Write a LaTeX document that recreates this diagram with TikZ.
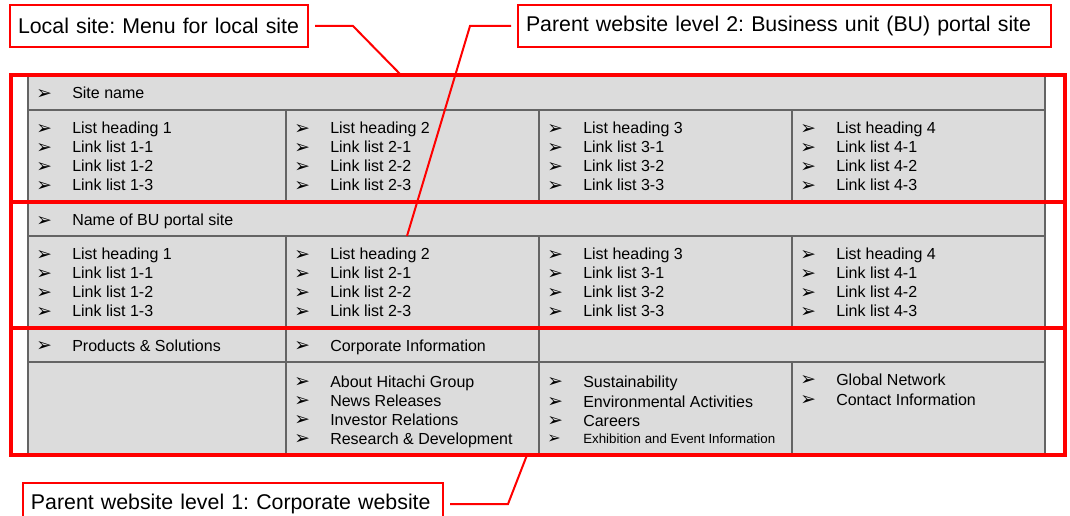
\documentclass[tikz,border=0pt]{standalone}
\usepackage{fontspec}
\setmainfont{Liberation Sans}
\newfontfamily\arrowfont{DejaVu Sans}
\usetikzlibrary{calc}
\frenchspacing

\definecolor{cellfill}{RGB}{220,220,220}
\definecolor{cellline}{RGB}{100,100,100}
\definecolor{markred}{RGB}{255,0,0}

\newcommand{\bul}[1][14pt]{\makebox[27pt][l]{\arrowfont\fontsize{#1}{#1}\selectfont\raisebox{-0.05em}{➢}}}

\tikzset{
  cell/.style={draw=cellline, fill=cellfill, line width=1.1pt},
  itm/.style={anchor=base west, inner sep=0pt, font=\fontsize{12}{14}\selectfont},
  smallitm/.style={itm, font=\fontsize{10}{12}\selectfont},
  region/.style={draw=markred, line width=3pt},
  callout/.style={draw=markred, line width=1.5pt, fill=white, anchor=west, inner xsep=6pt,
    minimum height=31.5pt, align=left, font=\fontsize{16}{19}\selectfont},
  lead/.style={markred, line width=1.5pt, shorten <=4.5pt},
}

\begin{document}
\begin{tikzpicture}[x=0.75pt,y=-0.75pt]
\clip (0,0) rectangle (1070,516);

% Menu table
\draw[cell] (28,75) rectangle (1045,110);
\draw[cell] (28,110) rectangle (1045,202);
\draw[cell] (28,202) rectangle (1045,236);
\draw[cell] (28,236) rectangle (1045,328);
\draw[cell] (28,328) rectangle (1045,362);
\draw[cell] (28,362) rectangle (1045,455);
\foreach \cx in {286,539,792}
  \draw[cellline, line width=1.1pt] (\cx,110) -- (\cx,202) (\cx,236) -- (\cx,328) (\cx,362) -- (\cx,455);
\draw[cellline, line width=1.1pt] (286,328) -- (286,362) (539,328) -- (539,362);

% Local site
\node[itm] (sitename) at (36,99) {\bul Site name};
\foreach \cx [count=\i] in {28,286,539,792} {
  \node[itm] (loc\i) at (\cx+8,134) {\bul List heading \i};
  \foreach \k in {1,2,3}
    \node[itm] (loc\i-\k) at (\cx+8,134+19*\k) {\bul Link list \i-\k};
}

% BU portal site
\node[itm] (buname) at (36,226) {\bul Name of BU portal site};
\foreach \cx [count=\i] in {28,286,539,792} {
  \node[itm] (bu\i) at (\cx+8,260) {\bul List heading \i};
  \foreach \k in {1,2,3}
    \node[itm] (bu\i-\k) at (\cx+8,260+19*\k) {\bul Link list \i-\k};
}

% Corporate website
\node[itm] (products) at (36,351) {\bul Products \& Solutions};
\node[itm] (corpinfo) at (294,351) {\bul Corporate Information};
\node[itm] (about) at (294,387) {\bul About Hitachi Group};
\node[itm] (news) at (294,406) {\bul News Releases};
\node[itm] (investor) at (294,425) {\bul Investor Relations};
\node[itm] (research) at (294,444) {\bul Research \& Development};
\node[itm] (sustain) at (547,387) {\bul Sustainability};
\node[itm] (environ) at (547,407) {\bul Environmental Activities};
\node[itm] (careers) at (547,426) {\bul Careers};
\node[smallitm] (exhibit) at (547,443) {\bul[12pt]Exhibition and Event Information};
\node[itm] (global) at (800,385) {\bul Global Network};
\node[itm] (contact) at (800,405) {\bul Contact Information};

% Site levels
\draw[region] (11,75) rectangle (1065,202);
\draw[region] (11,202) rectangle (1065,328);
\draw[region] (11,328) rectangle (1065,455);
\coordinate (localtop) at (401,75);
\coordinate (buhead) at (407,236);
\coordinate (corpbot) at (527,455);

% Callouts
\node[callout, text width=211.5pt] (localnote) at (9,26) {Local site: Menu for local site};
\node[callout, text width=387.75pt] (bunote) at (517,26) {Parent website level 2: Business unit (BU) portal site};
\node[callout, text width=303pt] (corpnote) at (22,504) {Parent website level 1: Corporate website};
\draw[lead] (localnote.east) -- ++(44,0) -- (localtop);
\draw[lead] (bunote.west) -- ++(-47,0) -- (buhead);
\draw[lead] (corpnote.east) -- ++(64,0) -- (corpbot);
\end{tikzpicture}
\end{document}
